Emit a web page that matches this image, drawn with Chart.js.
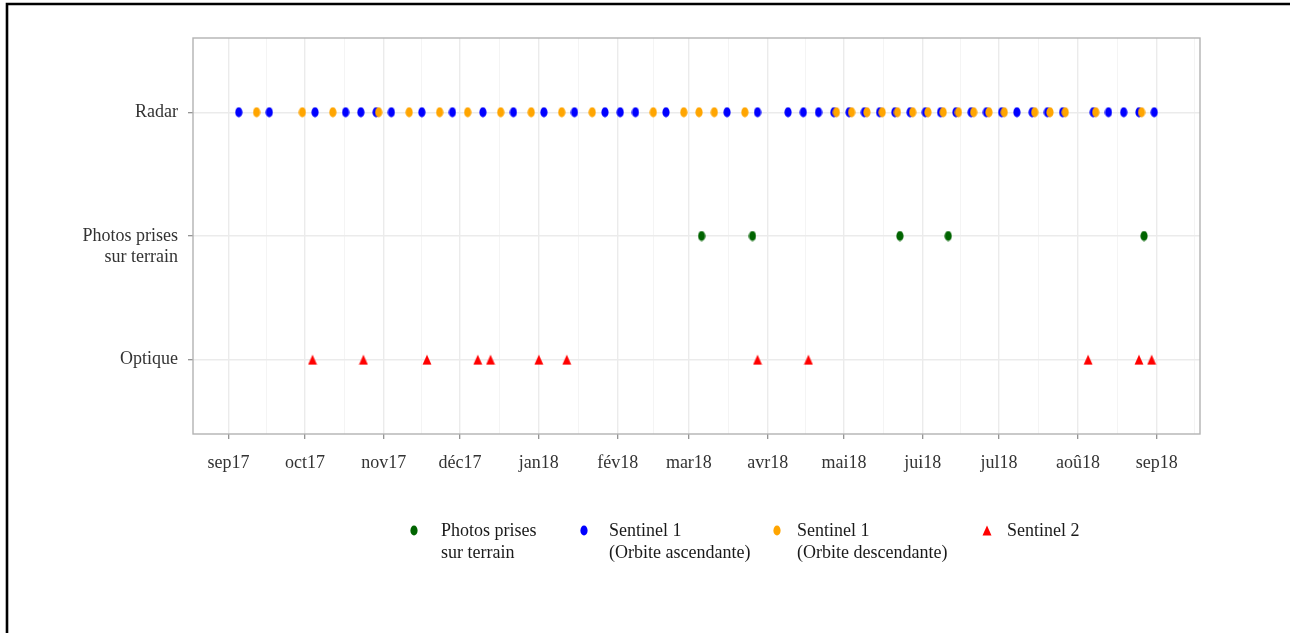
<!DOCTYPE html>
<html>
<head>
<meta charset="utf-8">
<script src="https://cdn.jsdelivr.net/npm/chart.js@4.4.1/dist/chart.umd.min.js"></script>
<style>
html,body{margin:0;padding:0;background:#fff;}
#wrap{position:relative;width:1290px;height:633px;overflow:hidden;background:#fff;}
#c{position:absolute;left:0;top:0;}
.item{position:absolute;top:519px;font-family:"Liberation Serif",serif;font-size:18px;line-height:22px;color:#1a1a1a;white-space:nowrap;}
.item img{position:absolute;}
.item .txt{position:absolute;left:0;top:0;}
</style>
</head>
<body>
<div id="wrap">
  <canvas id="c" width="1290" height="633"></canvas>
  <div id="legend"></div>
</div>
<script>
// ---------- data ----------
const originDate = '2017-09-01';
const monthStarts = ['2017-09-01','2017-10-01','2017-11-01','2017-12-01','2018-01-01','2018-02-01','2018-03-01','2018-04-01','2018-05-01','2018-06-01','2018-07-01','2018-08-01','2018-09-01','2018-10-01'];
const monthLabels = ['sep17','oct17','nov17','déc17','jan18','fév18','mar18','avr18','mai18','jui18','jul18','aoû18','sep18','oct18'];
const categories = ['Optique', ['Photos prises','sur terrain'], 'Radar']; // bottom -> top
const seriesNames = [['Photos prises','sur terrain'], ['Sentinel 1','(Orbite ascendante)'], ['Sentinel 1','(Orbite descendante)'], ['Sentinel 2']];
const seriesColors = ['#006400', '#0000ff', '#ffa500', '#ff0000'];

const photoDates = ['2018-03-06','2018-03-26','2018-05-23','2018-06-11','2018-08-27'];
const s1AscDates = ['2017-09-05','2017-09-17','2017-10-05','2017-10-17','2017-10-23','2017-10-29','2017-11-04','2017-11-16','2017-11-28','2017-12-10','2017-12-22',
  '2018-01-03','2018-01-15','2018-01-27','2018-02-02','2018-02-08','2018-02-20','2018-03-16','2018-03-28','2018-04-09','2018-04-15','2018-04-21','2018-04-27',
  '2018-05-03','2018-05-09','2018-05-15','2018-05-21','2018-05-27','2018-06-02','2018-06-08','2018-06-14','2018-06-20','2018-06-26','2018-07-02','2018-07-08',
  '2018-07-14','2018-07-20','2018-07-26','2018-08-07','2018-08-13','2018-08-19','2018-08-25','2018-08-31'];
const s1DescDates = ['2017-09-12','2017-09-30','2017-10-12','2017-10-30','2017-11-11','2017-11-23','2017-12-04','2017-12-17','2017-12-29',
  '2018-01-10','2018-01-22','2018-02-15','2018-02-27','2018-03-05','2018-03-11','2018-03-23','2018-04-28','2018-05-04','2018-05-10','2018-05-16',
  '2018-05-22','2018-05-28','2018-06-03','2018-06-09','2018-06-15','2018-06-21','2018-06-27','2018-07-03','2018-07-15','2018-07-21','2018-07-27',
  '2018-08-08','2018-08-26'];
const s2Dates = ['2017-10-04','2017-10-24','2017-11-18','2017-12-08','2017-12-13','2018-01-01','2018-01-12','2018-03-28','2018-04-17','2018-08-05','2018-08-25','2018-08-30'];

// ---------- helpers ----------
const DAY = 86400000;
const toDay = d => (Date.parse(d) - Date.parse(originDate)) / DAY;

function makeEllipse(color){
  const c = document.createElement('canvas');
  c.width = 8; c.height = 11;
  const g = c.getContext('2d');
  g.fillStyle = color;
  g.beginPath(); g.ellipse(4, 5.5, 3.6, 5.1, 0, 0, Math.PI*2); g.fill();
  return c;
}
function makeTriangle(color){
  const c = document.createElement('canvas');
  c.width = 10; c.height = 11;
  const g = c.getContext('2d');
  g.fillStyle = color;
  g.beginPath(); g.moveTo(5, 0.5); g.lineTo(9.5, 10.5); g.lineTo(0.5, 10.5); g.closePath(); g.fill();
  return c;
}
const markers = [makeEllipse(seriesColors[0]), makeEllipse(seriesColors[1]), makeEllipse(seriesColors[2]), makeTriangle(seriesColors[3])];

const allDays = [photoDates, s1AscDates, s1DescDates, s2Dates].flat().map(toDay);
const dMin = Math.min(...allDays), dMax = Math.max(...allDays);
const expand = 0.05 * (dMax - dMin);
const xMin = dMin - expand, xMax = dMax + expand;

const rowOf = {photo: 2, radar: 3, optique: 1};
const mk = (dates, y) => dates.map(d => ({x: toDay(d), y: y}));

const frameGrid = {
  id: 'frameGrid',
  beforeDraw(chart){
    const ctx = chart.ctx;
    ctx.save();
    ctx.fillStyle = '#fff';
    ctx.fillRect(0, 0, chart.width, chart.height);
    ctx.restore();
  },
  afterDraw(chart){
    const ctx = chart.ctx, a = chart.chartArea;
    ctx.save();
    ctx.strokeStyle = '#b3b3b3';
    ctx.lineWidth = 1.4;
    ctx.strokeRect(a.left, a.top, a.right - a.left, a.bottom - a.top);
    ctx.strokeStyle = '#000';
    ctx.lineWidth = 2.6;
    ctx.beginPath();
    ctx.moveTo(7, chart.height); ctx.lineTo(7, 4); ctx.lineTo(chart.width, 4);
    ctx.stroke();
    ctx.restore();
  }
};

const chart = new Chart(document.getElementById('c'), {
  type: 'scatter',
  data: {
    datasets: [
      {label: 'Photos prises sur terrain', data: mk(photoDates, rowOf.photo), pointStyle: markers[0], order: 0},
      {label: 'Sentinel 1 (Orbite ascendante)', data: mk(s1AscDates, rowOf.radar), pointStyle: markers[1], order: 2},
      {label: 'Sentinel 1 (Orbite descendante)', data: mk(s1DescDates, rowOf.radar), pointStyle: markers[2], order: 1},
      {label: 'Sentinel 2', data: mk(s2Dates, rowOf.optique), pointStyle: markers[3], order: 3}
    ]
  },
  options: {
    responsive: false,
    animation: false,
    layout: {padding: {left: 6, right: 90, top: 38, bottom: 0}},
    plugins: {legend: {display: false}, tooltip: {enabled: false}},
    elements: {point: {radius: 5, hoverRadius: 5}},
    scales: {
      x: {
        type: 'linear',
        min: xMin, max: xMax,
        afterFit(s){ s.height = 199; },
        afterBuildTicks(s){
          const majors = monthStarts.map((d, i) => ({value: toDay(d), lab: monthLabels[i]}));
          const ticks = [];
          majors.forEach((m, i) => {
            if (m.value >= xMin && m.value <= xMax) ticks.push(m);
            if (i < majors.length - 1) {
              const mid = (m.value + majors[i+1].value) / 2;
              if (mid >= xMin && mid <= xMax) ticks.push({value: mid, minor: true});
            }
          });
          ticks.sort((a, b) => a.value - b.value);
          s.ticks = ticks;
        },
        ticks: {
          autoSkip: false, maxRotation: 0, minRotation: 0,
          padding: 13,
          color: '#333333',
          font: {family: '"Liberation Serif", serif', size: 18},
          callback: (v, i, t) => (t[i] && t[i].lab) ? t[i].lab : ''
        },
        grid: {
          color: c => (c.tick && c.tick.minor) ? '#f4f4f4' : '#ebebeb',
          lineWidth: c => (c.tick && c.tick.minor) ? 1 : 1.4,
          tickColor: c => (c.tick && c.tick.minor) ? 'rgba(0,0,0,0)' : '#8a8a8a',
          tickWidth: 1.2,
          tickLength: 5
        },
        border: {display: false}
      },
      y: {
        type: 'linear',
        min: 0.4, max: 3.6,
        afterFit(s){ s.width = 187; },
        afterBuildTicks(s){ s.ticks = [1, 2, 3].map(v => ({value: v})); },
        ticks: {
          padding: 10,
          color: '#333333',
          font: {family: '"Liberation Serif", serif', size: 18, lineHeight: 1.18},
          callback: v => {
            const lab = categories[Math.round(v) - 1];
            return Array.isArray(lab) ? [''].concat(lab) : lab;
          }
        },
        grid: {color: '#ebebeb', lineWidth: 1.4, tickColor: '#8a8a8a', tickWidth: 1.2, tickLength: 5},
        border: {display: false}
      }
    }
  },
  plugins: [frameGrid]
});

// ---------- HTML legend built from the datasets ----------
const legendX = [[405, 441], [575, 609], [768, 797], [978, 1007]];
const legendEl = document.getElementById('legend');
chart.data.datasets.forEach((ds, i) => {
  const item = document.createElement('div');
  item.className = 'item';
  item.style.left = legendX[i][0] + 'px';
  const img = document.createElement('img');
  const m = markers[i];
  img.src = m.toDataURL();
  img.style.left = (9 - m.width/2) + 'px';
  img.style.top = (11 - m.height/2) + 'px';
  item.appendChild(img);
  const t = document.createElement('div');
  t.className = 'txt';
  t.style.left = (legendX[i][1] - legendX[i][0]) + 'px';
  t.innerHTML = seriesNames[i].join('<br>');
  item.appendChild(t);
  legendEl.appendChild(item);
});
</script>
</body>
</html>
